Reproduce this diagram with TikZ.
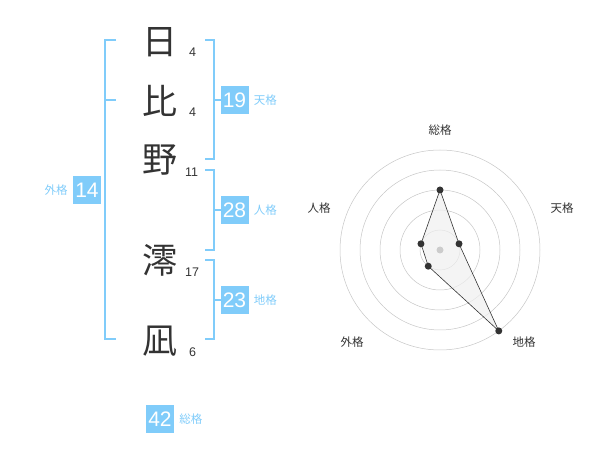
\documentclass[tikz,border=0pt]{standalone}
\usepackage{fontspec}
\setmainfont{Liberation Sans}
\newfontfamily\jpfont{Noto Sans CJK JP}
\usepackage{xcolor}
\usetikzlibrary{positioning,calc}
\definecolor{SkyBlue}{RGB}{128,204,250}
\definecolor{Ink}{RGB}{51,51,51}

\begin{document}
\begin{tikzpicture}[x=1pt,y=-1pt,
    kanji/.style={text=Ink,inner sep=0pt,font=\jpfont\fontsize{35}{35}\selectfont},
    strokes/.style={text=Ink,inner sep=0pt,anchor=base west,font=\fontsize{12.5}{12.5}\selectfont},
    scorebox/.style={fill=SkyBlue,text=white,minimum size=28pt,inner sep=0pt,
                     font=\fontsize{21}{21}\selectfont},
    scorename/.style={text=SkyBlue,inner sep=0pt,font=\jpfont\fontsize{11.5}{11.5}\selectfont},
    bracket/.style={draw=SkyBlue,line width=1.8pt},
    ring/.style={draw=gray!45,line width=0.5pt},
    axisname/.style={text=Ink,inner sep=0pt,font=\jpfont\fontsize{11.5}{11.5}\selectfont},
    dot/.style={circle,fill=Ink,inner sep=0pt,minimum size=7pt}]
  \useasboundingbox (0,0) rectangle (600,470);

  % name, one character per row
  \node[kanji] (hi)   at (160,42)  {日};
  \node[kanji] (bi)   at (160,101) {比};
  \node[kanji] (no)   at (160,160) {野};
  \node[kanji] (mio)  at (160,260) {澪};
  \node[kanji] (nagi) at (160,341) {凪};
  \node[strokes] (s1) at (189,57)  {4};
  \node[strokes] (s2) at (189,117) {4};
  \node[strokes] (s3) at (185,177) {11};
  \node[strokes] (s4) at (185,277) {17};
  \node[strokes] (s5) at (189,357) {6};

  % brackets
  \draw[bracket] (116,40) -- (105,40) -- (105,339) -- (116,339);
  \draw[bracket] (105,100) -- (116,100);
  \draw[bracket] (205,40) -- (214,40) -- (214,159) -- (205,159);
  \draw[bracket] (214,100) -- (221,100);
  \draw[bracket] (205,170) -- (214,170) -- (214,250) -- (205,250);
  \draw[bracket] (214,210) -- (221,210);
  \draw[bracket] (205,260) -- (214,260) -- (214,339) -- (205,339);
  \draw[bracket] (214,300) -- (221,300);

  % scores
  \node[scorebox] (gai)  at (87,190)    {14};
  \node[scorename,left=5pt of gai] {外格};
  \node[scorebox] (ten)  at (234.5,100) {19};
  \node[scorename,right=5pt of ten] {天格};
  \node[scorebox] (jin)  at (234.5,210) {28};
  \node[scorename,right=5pt of jin] {人格};
  \node[scorebox] (chi)  at (234.5,300) {23};
  \node[scorename,right=5pt of chi] {地格};
  \node[scorebox] (sou)  at (160,419)   {42};
  \node[scorename,right=5pt of sou] {総格};

  % radar chart
  \coordinate (c) at (440,250);
  \foreach \r in {20,40,60,80,100}
    \draw[ring] (c) circle (\r);
  \node[axisname] (lsou) at (440,130) {総格};
  \node[axisname] (lten) at (562,208) {天格};
  \node[axisname] (ljin) at (319,208) {人格};
  \node[axisname] (lgai) at (352,342) {外格};
  \node[axisname] (lchi) at (524,342) {地格};
  \coordinate (psou) at ($(c)+(-90:60)$);
  \coordinate (pten) at ($(c)+(-18:20)$);
  \coordinate (pchi) at ($(c)+(54:100)$);
  \coordinate (pgai) at ($(c)+(126:20)$);
  \coordinate (pjin) at ($(c)+(198:20)$);
  \draw[fill=gray!12,fill opacity=0.7,draw=Ink,line width=0.6pt]
    (psou) -- (pten) -- (pchi) -- (pgai) -- (pjin) -- cycle;
  \fill[gray!40] (c) circle (3.5);
  \foreach \p in {psou,pten,pchi,pgai,pjin}
    \node[dot] at (\p) {};
\end{tikzpicture}
\end{document}
